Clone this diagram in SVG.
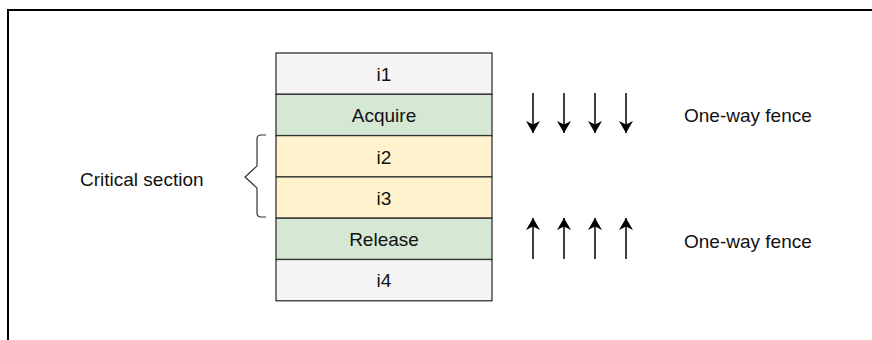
<svg xmlns="http://www.w3.org/2000/svg" width="872" height="340" viewBox="0 0 872 340">
<style>
text{font-family:"Liberation Sans",Arial,sans-serif;font-size:19px;fill:#111}
.c{text-anchor:middle}
.row{stroke:#333;stroke-width:1.3}
.g{fill:#f5f5f5}.gr{fill:#d5e8d4}.y{fill:#fff2cc}
.a{stroke:#000;stroke-width:1.5;fill:none}
</style>
<defs>
<marker id="ah" viewBox="0 0 12 14" refX="12" refY="7" markerWidth="12" markerHeight="14" markerUnits="userSpaceOnUse" orient="auto">
<path d="M0,0 L12,7 L0,14 L3.5,7 Z" fill="#000"/>
</marker>
</defs>
<rect width="872" height="340" fill="#fff"/>
<path d="M8,340 L8,10 L872,10" fill="none" stroke="#000" stroke-width="2"/>
<g id="i1"><rect class="row g" x="276" y="53" width="216" height="41.3"/><text class="c" x="384" y="81">i1</text></g>
<g id="acquire"><rect class="row gr" x="276" y="94.3" width="216" height="41.3"/><text class="c" x="384" y="122">Acquire</text></g>
<g id="i2"><rect class="row y" x="276" y="135.6" width="216" height="41.3"/><text class="c" x="384" y="163.5">i2</text></g>
<g id="i3"><rect class="row y" x="276" y="176.9" width="216" height="41.3"/><text class="c" x="384" y="204.8">i3</text></g>
<g id="release"><rect class="row gr" x="276" y="218.2" width="216" height="41.3"/><text class="c" x="384" y="246">Release</text></g>
<g id="i4"><rect class="row g" x="276" y="259.5" width="216" height="41.3"/><text class="c" x="384" y="287.3">i4</text></g>
<g id="brace"><path d="M266,135 L261,135 Q257,135 257,139 L257,166 L245,177 L257,188 L257,213 Q257,217 261,217 L266,217" fill="none" stroke="#333" stroke-width="1.2"/>
<text x="80" y="186">Critical section</text></g>
<g id="connectors">
<line class="a" x1="533" y1="93" x2="533" y2="133" marker-end="url(#ah)"/>
<line class="a" x1="564" y1="93" x2="564" y2="133" marker-end="url(#ah)"/>
<line class="a" x1="595" y1="93" x2="595" y2="133" marker-end="url(#ah)"/>
<line class="a" x1="626" y1="93" x2="626" y2="133" marker-end="url(#ah)"/>
<line class="a" x1="533" y1="259" x2="533" y2="218" marker-end="url(#ah)"/>
<line class="a" x1="564" y1="259" x2="564" y2="218" marker-end="url(#ah)"/>
<line class="a" x1="595" y1="259" x2="595" y2="218" marker-end="url(#ah)"/>
<line class="a" x1="626" y1="259" x2="626" y2="218" marker-end="url(#ah)"/>
</g>
<g id="fence1"><text x="684" y="122">One-way fence</text></g>
<g id="fence2"><text x="684" y="248">One-way fence</text></g>
</svg>
